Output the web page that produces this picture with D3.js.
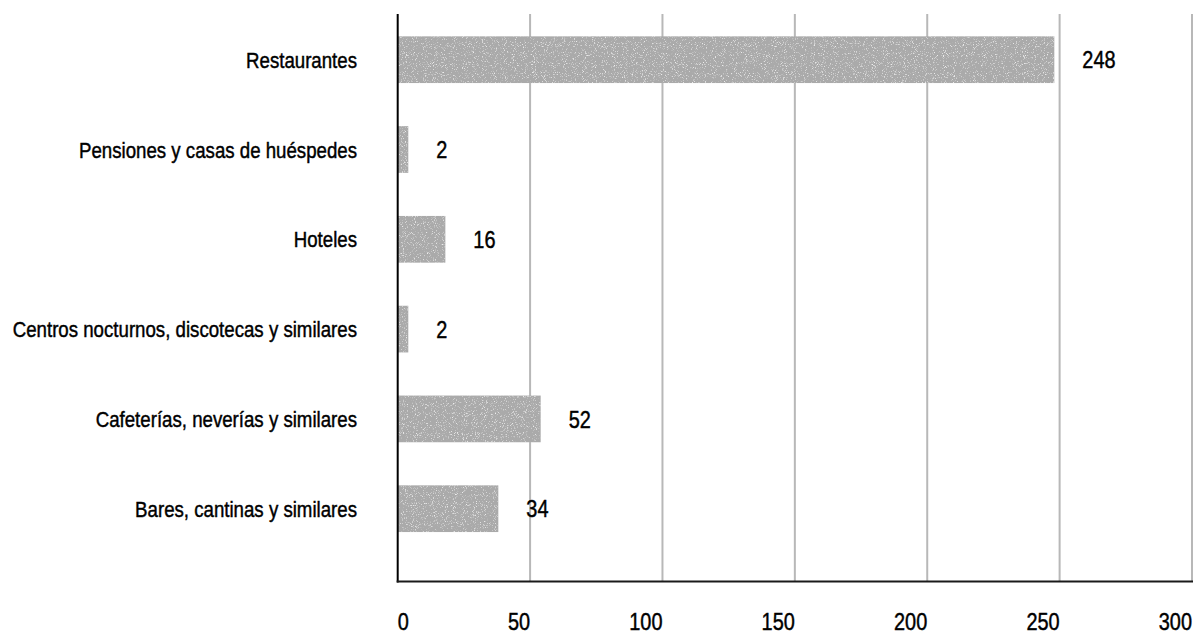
<!DOCTYPE html>
<html><head><meta charset="utf-8">
<script src="https://cdn.jsdelivr.net/npm/d3@7"></script>
<style>
html,body{margin:0;padding:0;background:#fff;}
text{font-family:"Liberation Sans",Arial,sans-serif;fill:#000;stroke:#000;stroke-width:0.45px;}
</style></head><body>
<svg id="chart" width="1195" height="635"></svg>
<script>
const categories = ["Restaurantes","Pensiones y casas de huéspedes","Hoteles","Centros nocturnos, discotecas y similares","Cafeterías, neverías y similares","Bares, cantinas y similares"];
const barLengths = [248, 4, 18, 4, 54, 38];
const valueLabels = ["248","2","16","2","52","34"];
const xTicks = [0,50,100,150,200,250,300];

const svg = d3.select("#chart");
const x = d3.scaleLinear().domain([0,300]).range([397.7,1192]);
const y = d3.scaleBand().domain(categories).range([14.8,553.6]).paddingInner(0.48).paddingOuter(0.24);
const narrow = 0.83;

const defs = svg.append("defs");
const f = defs.append("filter").attr("id","noise").attr("x",0).attr("y",0).attr("width",1).attr("height",1);
f.append("feTurbulence").attr("type","fractalNoise").attr("baseFrequency",1.1).attr("numOctaves",2).attr("seed",3).attr("result","t");
f.append("feColorMatrix").attr("in","t").attr("type","matrix")
 .attr("values","0 0 0 0 0.84  0 0 0 0 0.84  0 0 0 0 0.84  4 0 0 0 -2.3").attr("result","w");
f.append("feComposite").attr("in","w").attr("in2","SourceGraphic").attr("operator","in").attr("result","s");
const m = f.append("feMerge");
m.append("feMergeNode").attr("in","SourceGraphic");
m.append("feMergeNode").attr("in","s");

// gridlines
svg.append("g").selectAll("line").data(xTicks.filter(d=>d>0)).join("line")
  .attr("x1",d=>x(d)).attr("x2",d=>x(d)).attr("y1",14).attr("y2",581)
  .attr("stroke","#b8b8b8").attr("stroke-width",2);

// bars
svg.append("g").selectAll("rect").data(categories).join("rect")
  .attr("x",x(0)).attr("y",d=>y(d))
  .attr("width",(d,i)=>x(barLengths[i])-x(0)).attr("height",y.bandwidth())
  .attr("fill","#aaaaaa").attr("filter","url(#noise)");

// axes lines
svg.append("line").attr("x1",x(0)).attr("x2",x(0)).attr("y1",14).attr("y2",582.5).attr("stroke","#000").attr("stroke-width",2);
svg.append("line").attr("x1",x(0)-1).attr("x2",x(300)+1).attr("y1",581.5).attr("y2",581.5).attr("stroke","#1a1a1a").attr("stroke-width",2);

// category labels
svg.append("g").selectAll("text").data(categories).join("text")
  .attr("transform",d=>`translate(357,${y(d)+y.bandwidth()/2}) scale(${narrow},1)`)
  .attr("dy","0.36em")
  .attr("text-anchor","end").style("font-size","22.5px").text(d=>d);

// value labels
svg.append("g").selectAll("text").data(categories).join("text")
  .attr("transform",(d,i)=>`translate(${x(barLengths[i])+28},${y(d)+y.bandwidth()/2}) scale(${narrow},1)`)
  .attr("dy","0.36em")
  .attr("text-anchor","start").style("font-size","24px").text((d,i)=>valueLabels[i]);

// x tick labels
svg.append("g").selectAll("text").data(xTicks).join("text")
  .attr("transform",d=>`translate(${x(d)},630) scale(${narrow},1)`)
  .attr("text-anchor",d=>d===0?"start":"end").style("font-size","24px").text(d=>d);
</script>
</body></html>
